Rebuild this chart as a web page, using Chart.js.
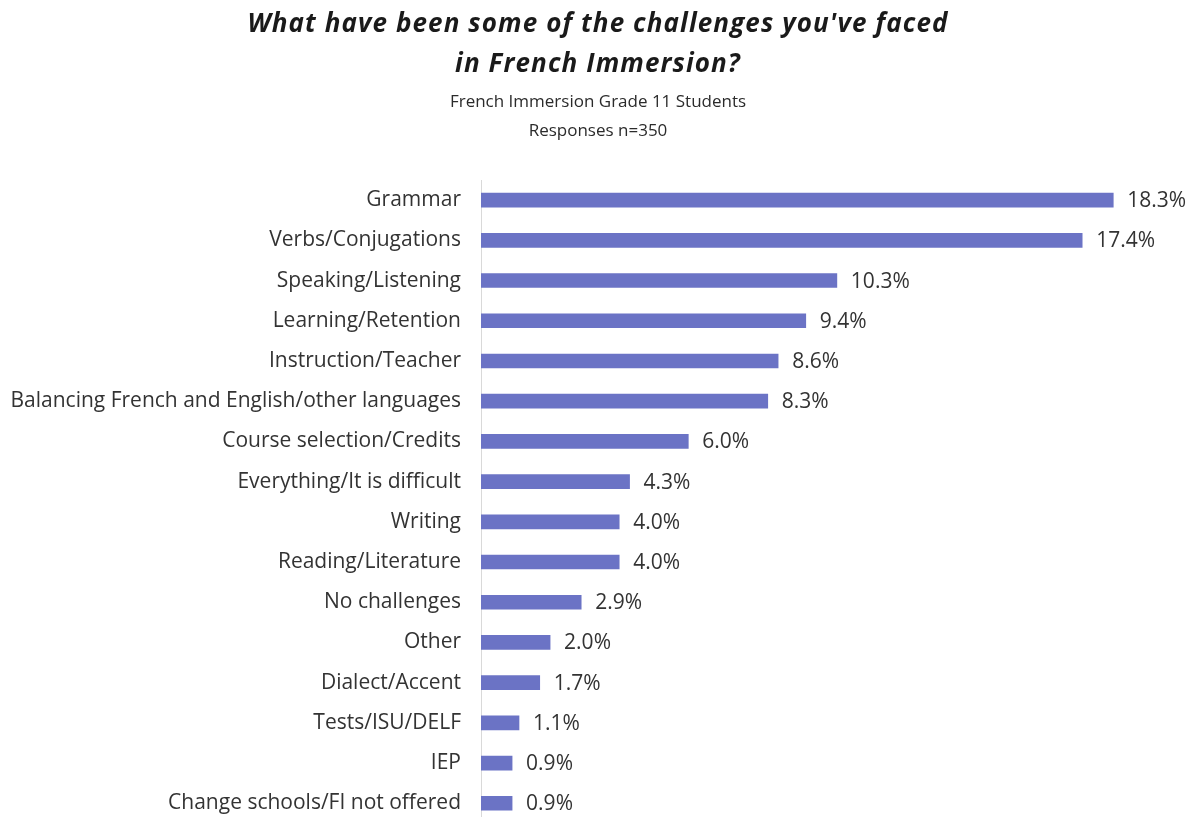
<!DOCTYPE html>
<html>
<head>
<meta charset="utf-8">
<script src="https://cdn.jsdelivr.net/npm/chart.js@4.4.1/dist/chart.umd.min.js"></script>
<style>
html,body{margin:0;padding:0;background:#fff;overflow:hidden;}
canvas{display:block;}
</style>
</head>
<body>
<canvas id="c" width="1194" height="856" style="width:1194px;height:856px"></canvas>
<script>
const categories = [
  "Grammar",
  "Verbs/Conjugations",
  "Speaking/Listening",
  "Learning/Retention",
  "Instruction/Teacher",
  "Balancing French and English/other languages",
  "Course selection/Credits",
  "Everything/It is difficult",
  "Writing",
  "Reading/Literature",
  "No challenges",
  "Other",
  "Dialect/Accent",
  "Tests/ISU/DELF",
  "IEP",
  "Change schools/FI not offered"
];
const values = [18.3, 17.4, 10.3, 9.4, 8.6, 8.3, 6.0, 4.3, 4.0, 4.0, 2.9, 2.0, 1.7, 1.1, 0.9, 0.9];
const titleLines = ["What have been some of the challenges you've faced", "in French Immersion?"];
const subtitleLines = ["French Immersion Grade 11 Students", "Responses n=350"];

const LABEL_FONT = '21px "Open Sans"';
const titlePlugin = {
  id: 'customTitle',
  afterDraw(chart) {
    const ctx = chart.ctx;
    ctx.save();
    ctx.textAlign = 'center';
    ctx.textBaseline = 'alphabetic';
    ctx.fillStyle = '#1a1a1a';
    ctx.font = 'italic bold 26px "Open Sans"';
    if ('letterSpacing' in ctx) ctx.letterSpacing = '1.1px';
    ctx.fillText(titleLines[0], 598, 32);
    ctx.fillText(titleLines[1], 598, 72);
    if ('letterSpacing' in ctx) ctx.letterSpacing = '0px';
    ctx.fillStyle = '#2b2b2b';
    ctx.font = '17px "Open Sans"';
    ctx.fillText(subtitleLines[0], 598, 107);
    ctx.fillText(subtitleLines[1], 598, 136);
    ctx.restore();
  }
};
const valueLabels = {
  id: 'valueLabels',
  afterDatasetsDraw(chart) {
    const ctx = chart.ctx;
    const meta = chart.getDatasetMeta(0);
    ctx.save();
    ctx.font = LABEL_FONT;
    ctx.fillStyle = '#333333';
    ctx.textAlign = 'left';
    ctx.textBaseline = 'middle';
    meta.data.forEach((bar, i) => {
      ctx.fillText(values[i].toFixed(1) + '%', bar.x + 14, bar.y + 1);
    });
    ctx.restore();
  }
};

new Chart(document.getElementById('c'), {
  type: 'bar',
  data: {
    labels: categories,
    datasets: [{
      data: values,
      backgroundColor: '#6B73C5',
      borderWidth: 0,
      barThickness: 14
    }]
  },
  options: {
    indexAxis: 'y',
    responsive: false,
    animation: false,
    layout: { padding: { top: 180, right: 22, bottom: 8, left: 0 } },
    plugins: { legend: { display: false }, tooltip: { enabled: false }, title: { display: false } },
    scales: {
      x: { display: false, min: 0, max: 20 },
      y: {
        afterFit(scale) { scale.width = 481; },
        grid: { display: false, drawTicks: false },
        border: { display: true, color: '#d9d9d9', width: 1 },
        ticks: { padding: 20, color: '#333333', font: { family: 'Open Sans', size: 21 } }
      }
    }
  },
  plugins: [titlePlugin, valueLabels]
});
</script>
</body>
</html>
